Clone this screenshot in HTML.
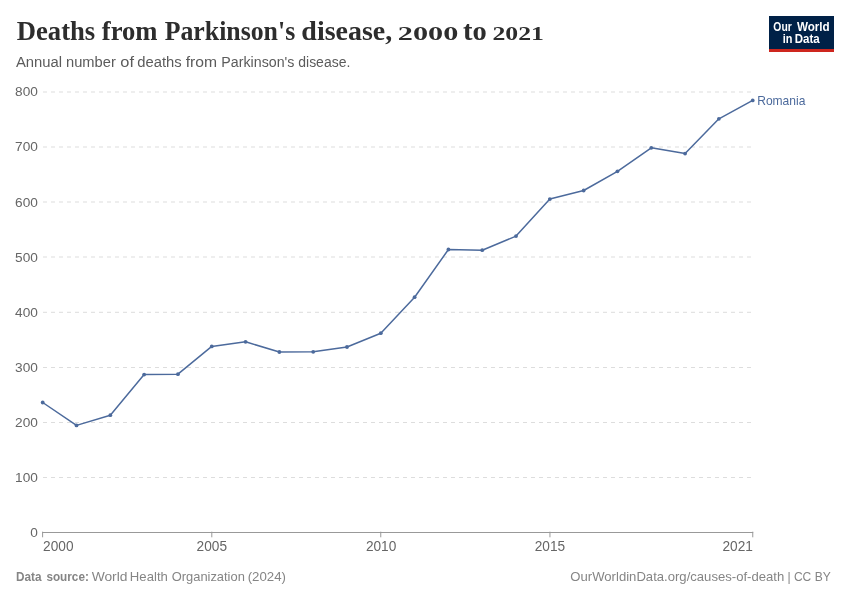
<!DOCTYPE html>
<html><head><meta charset="utf-8">
<style>
html,body{margin:0;padding:0;background:#fff;}
body{width:850px;height:600px;position:relative;overflow:hidden;font-family:"Liberation Sans",sans-serif;}
svg{position:absolute;left:0;top:0;}
text{font-family:"Liberation Sans",sans-serif;}
.title{font-family:"Liberation Serif",serif;font-weight:bold;font-size:26.5px;fill:#2d2d2d;}
.title .n{font-size:19px;}
.sub{font-size:14px;fill:#5b5b5b;}
.ax{font-size:13.9px;fill:#666;}
.ft{font-size:12.6px;fill:#858585;}
</style></head><body>
<svg width="850" height="600" viewBox="0 0 850 600">
<rect width="850" height="600" fill="#fff"/>
<text class="title"><tspan x="16.76" y="40" textLength="78.47" lengthAdjust="spacingAndGlyphs">Deaths</tspan> <tspan x="101.8" y="40" textLength="55.71" lengthAdjust="spacingAndGlyphs">from</tspan> <tspan x="164.66" y="40" textLength="130.54" lengthAdjust="spacingAndGlyphs">Parkinson's</tspan> <tspan x="301.33" y="40" textLength="90.87" lengthAdjust="spacingAndGlyphs">disease,</tspan> <tspan x="397.86" y="40" textLength="60.43" lengthAdjust="spacingAndGlyphs" class="n">2000</tspan> <tspan x="463.04" y="40" textLength="23.74" lengthAdjust="spacingAndGlyphs">to</tspan> <tspan x="492.47" y="40" textLength="51.47" lengthAdjust="spacingAndGlyphs" class="n">2021</tspan></text>
<text class="sub"><tspan x="15.9" y="66.7" textLength="46.17" lengthAdjust="spacingAndGlyphs">Annual</tspan> <tspan x="66.04" y="66.7" textLength="49.77" lengthAdjust="spacingAndGlyphs">number</tspan> <tspan x="120.27" y="66.7" textLength="13.7" lengthAdjust="spacingAndGlyphs">of</tspan> <tspan x="137.25" y="66.7" textLength="44.42" lengthAdjust="spacingAndGlyphs">deaths</tspan> <tspan x="185.78" y="66.7" textLength="31.36" lengthAdjust="spacingAndGlyphs">from</tspan> <tspan x="221.36" y="66.7" textLength="73.05" lengthAdjust="spacingAndGlyphs">Parkinson's</tspan> <tspan x="298.28" y="66.7" textLength="52.03" lengthAdjust="spacingAndGlyphs">disease.</tspan></text>
<rect x="769" y="16" width="65" height="36" fill="#002147"/>
<rect x="769" y="49" width="65" height="3" fill="#ce261e"/>

<text font-size="12.3" font-weight="bold" fill="#fff"><tspan x="773.37" y="30.8" textLength="18.43" lengthAdjust="spacingAndGlyphs">Our</tspan> <tspan x="796.96" y="30.8" textLength="32.74" lengthAdjust="spacingAndGlyphs">World</tspan> <tspan x="782.74" y="42.8" textLength="9.73" lengthAdjust="spacingAndGlyphs">in</tspan> <tspan x="794.7" y="42.8" textLength="24.95" lengthAdjust="spacingAndGlyphs">Data</tspan></text>
<g stroke="#ddd" stroke-width="1" stroke-dasharray="4,4" fill="none">
<line x1="43" x2="752.7" y1="92.0" y2="92.0"/>
<line x1="43" x2="752.7" y1="147.0" y2="147.0"/>
<line x1="43" x2="752.7" y1="202.0" y2="202.0"/>
<line x1="43" x2="752.7" y1="257.0" y2="257.0"/>
<line x1="43" x2="752.7" y1="312.3" y2="312.3"/>
<line x1="43" x2="752.7" y1="367.5" y2="367.5"/>
<line x1="43" x2="752.7" y1="422.5" y2="422.5"/>
<line x1="43" x2="752.7" y1="477.5" y2="477.5"/>
</g>
<g stroke="#999" stroke-width="1" fill="none">
<line x1="42.2" x2="753.2" y1="532.5" y2="532.5"/>
<line x1="42.6" x2="42.6" y1="531.7" y2="537.3"/>
<line x1="211.8" x2="211.8" y1="531.7" y2="537.3"/>
<line x1="380.75" x2="380.75" y1="531.7" y2="537.3"/>
<line x1="549.95" x2="549.95" y1="531.7" y2="537.3"/>
<line x1="752.75" x2="752.75" y1="531.7" y2="537.3"/>
</g>
<g class="ax">
<text x="15.1" y="96.40" font-size="13.7" textLength="22.8" lengthAdjust="spacingAndGlyphs">800</text>
<text x="15.1" y="151.45" font-size="13.7" textLength="22.8" lengthAdjust="spacingAndGlyphs">700</text>
<text x="15.1" y="206.50" font-size="13.7" textLength="22.8" lengthAdjust="spacingAndGlyphs">600</text>
<text x="15.1" y="261.55" font-size="13.7" textLength="22.8" lengthAdjust="spacingAndGlyphs">500</text>
<text x="15.1" y="316.60" font-size="13.7" textLength="22.8" lengthAdjust="spacingAndGlyphs">400</text>
<text x="15.1" y="371.65" font-size="13.7" textLength="22.8" lengthAdjust="spacingAndGlyphs">300</text>
<text x="15.1" y="426.70" font-size="13.7" textLength="22.8" lengthAdjust="spacingAndGlyphs">200</text>
<text x="15.1" y="481.75" font-size="13.7" textLength="22.8" lengthAdjust="spacingAndGlyphs">100</text>
<text x="30.3" y="536.80" font-size="13.7" textLength="7.6" lengthAdjust="spacingAndGlyphs">0</text>
</g>
<g class="ax">
<text x="43.1" y="550.5" font-size="14.1" textLength="30.4" lengthAdjust="spacingAndGlyphs">2000</text>
<text x="196.6" y="550.5" font-size="14.1" textLength="30.4" lengthAdjust="spacingAndGlyphs">2005</text>
<text x="365.9" y="550.5" font-size="14.1" textLength="30.4" lengthAdjust="spacingAndGlyphs">2010</text>
<text x="534.7" y="550.5" font-size="14.1" textLength="30.4" lengthAdjust="spacingAndGlyphs">2015</text>
<text x="722.5" y="550.5" font-size="14.1" textLength="30.4" lengthAdjust="spacingAndGlyphs">2021</text>
</g>
<polyline fill="none" stroke="#4c6a9c" stroke-width="1.5" stroke-linejoin="round" points="42.7,402.5 76.51,425.4 110.32,415.2 144.13,374.6 177.94,374.2 211.75,346.4 245.56,341.8 279.37,352 313.18,351.8 346.99,347 380.8,333.2 414.61,297.2 448.42,249.5 482.23,250.2 516.04,236.1 549.85,199.1 583.66,190.5 617.47,171.3 651.28,147.8 685.09,153.6 718.9,118.8 752.71,100.4"/>
<g fill="#4c6a9c"><circle cx="42.7" cy="402.5" r="1.9"/><circle cx="76.51" cy="425.4" r="1.9"/><circle cx="110.32" cy="415.2" r="1.9"/><circle cx="144.13" cy="374.6" r="1.9"/><circle cx="177.94" cy="374.2" r="1.9"/><circle cx="211.75" cy="346.4" r="1.9"/><circle cx="245.56" cy="341.8" r="1.9"/><circle cx="279.37" cy="352" r="1.9"/><circle cx="313.18" cy="351.8" r="1.9"/><circle cx="346.99" cy="347" r="1.9"/><circle cx="380.8" cy="333.2" r="1.9"/><circle cx="414.61" cy="297.2" r="1.9"/><circle cx="448.42" cy="249.5" r="1.9"/><circle cx="482.23" cy="250.2" r="1.9"/><circle cx="516.04" cy="236.1" r="1.9"/><circle cx="549.85" cy="199.1" r="1.9"/><circle cx="583.66" cy="190.5" r="1.9"/><circle cx="617.47" cy="171.3" r="1.9"/><circle cx="651.28" cy="147.8" r="1.9"/><circle cx="685.09" cy="153.6" r="1.9"/><circle cx="718.9" cy="118.8" r="1.9"/><circle cx="752.71" cy="100.4" r="1.9"/></g>
<text x="757.2" y="105.3" font-size="13.4" fill="#4c6a9c" textLength="48.2" lengthAdjust="spacingAndGlyphs">Romania</text>

<text class="ft"><tspan x="15.94" y="580.6" textLength="25.51" lengthAdjust="spacingAndGlyphs" font-weight="bold">Data</tspan> <tspan x="46.4" y="580.6" textLength="42.45" lengthAdjust="spacingAndGlyphs" font-weight="bold">source:</tspan> <tspan x="91.65" y="580.6" textLength="35.85" lengthAdjust="spacingAndGlyphs">World</tspan> <tspan x="129.88" y="580.6" textLength="37.98" lengthAdjust="spacingAndGlyphs">Health</tspan> <tspan x="171.76" y="580.6" textLength="73.05" lengthAdjust="spacingAndGlyphs">Organization</tspan> <tspan x="247.67" y="580.6" textLength="38.31" lengthAdjust="spacingAndGlyphs">(2024)</tspan></text>
<text class="ft"><tspan x="570.36" y="580.6" textLength="213.88" lengthAdjust="spacingAndGlyphs">OurWorldinData.org/causes-of-death</tspan> <tspan x="787.42" y="580.6" textLength="43.37" lengthAdjust="spacingAndGlyphs">| CC BY</tspan></text>
</svg>
</body></html>
